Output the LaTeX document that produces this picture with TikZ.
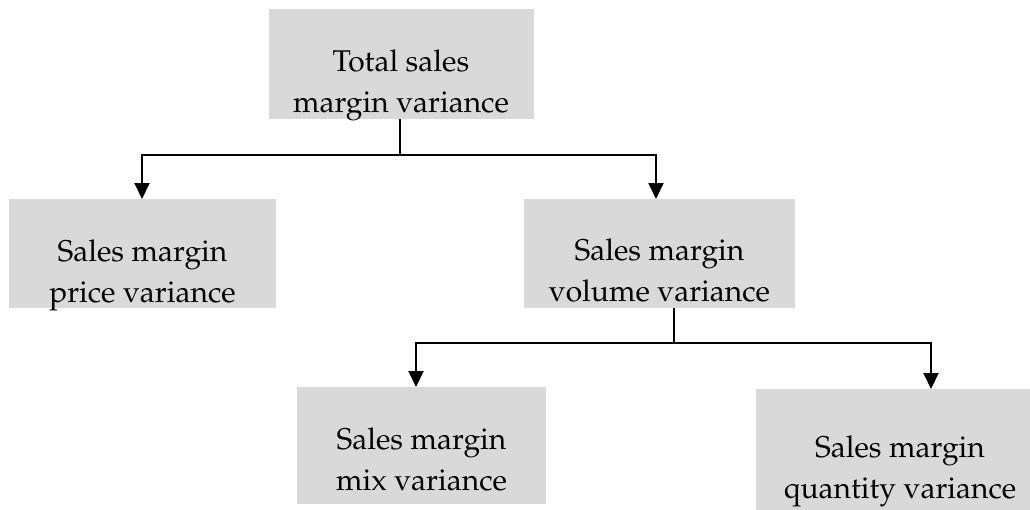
\documentclass[tikz,border=0pt]{standalone}
\usepackage[T1]{fontenc}
\usepackage{mathpazo}
\usetikzlibrary{arrows.meta}
\definecolor{boxgray}{HTML}{D9D9D9}
\tikzset{
  box/.style={fill=boxgray, draw=none, inner sep=0pt, anchor=north west},
  lbl/.style={align=center, anchor=base, inner sep=0pt, font=\fontsize{30}{41}\selectfont},
  link/.style={line width=2pt},
  arr/.style={link, -{Triangle[width=15pt,length=16pt]}},
}
\begin{document}
\begin{tikzpicture}[x=1pt, y=-1pt]
  \useasboundingbox (0,0) rectangle (1030,509);
  \begin{scope}
    \clip (0,0) rectangle (1030,509);
    % boxes
    \node[box, minimum width=265, minimum height=110] (top) at (269,9) {};
    \node[box, minimum width=267, minimum height=109] (left) at (9,199) {};
    \node[box, minimum width=271, minimum height=109] (mid) at (524,199) {};
    \node[box, minimum width=249, minimum height=117] (mix) at (297,387) {};
    \node[box, minimum width=300, minimum height=130] (qty) at (756,389) {};
  \end{scope}
  % labels (anchored at the baseline of the last line)
  \node[lbl] (ttop) at (401,112) {Total sales\\margin variance};
  \node[lbl] (tleft) at (142.5,302) {Sales margin\\price variance};
  \node[lbl] (tmid) at (659.5,301) {Sales margin\\volume variance};
  \node[lbl] (tmix) at (421.5,490) {Sales margin\\mix variance};
  \node[lbl] (tqty) at (900,498) {Sales margin\\quantity variance};
  % junction points of the connectors
  \coordinate (s1) at (400,155);
  \coordinate (b1l) at (142,155);
  \coordinate (b1r) at (656,155);
  \coordinate (s2) at (674,343);
  \coordinate (b2l) at (416,343);
  \coordinate (b2r) at (931,343);
  % first level
  \draw[link] (s1 |- top.south) -- (s1);
  \draw[arr] (s1) -| (b1l |- left.north);
  \draw[arr] (s1) -| (b1r |- mid.north);
  % second level
  \draw[link] (s2 |- mid.south) -- (s2);
  \draw[arr] (s2) -| (b2l |- mix.north);
  \draw[arr] (s2) -| (b2r |- qty.north);
\end{tikzpicture}
\end{document}
